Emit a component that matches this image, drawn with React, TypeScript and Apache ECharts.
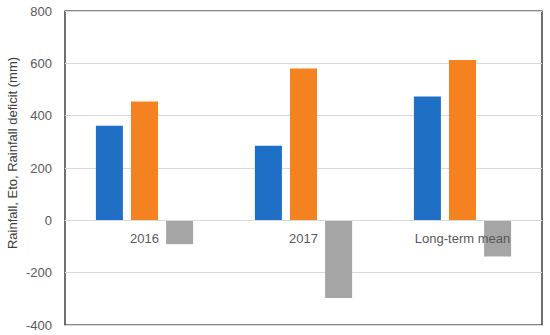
import React, { useEffect, useRef } from "react";
import * as echarts from "echarts";

const categories = ["2016", "2017", "Long-term mean"];
const rainfall = [361, 285, 473];
const eto = [454, 580, 613];
const deficit = [-91, -297, -138];
const yTicks = { min: -400, max: 800, interval: 200 };
const yName = "Rainfall, Eto, Rainfall deficit (mm)";

export default function App() {
  const ref = useRef<HTMLDivElement>(null);
  useEffect(() => {
    if (!ref.current) return;
    const chart = echarts.init(ref.current, undefined, { renderer: "svg" });
    const font = "'Liberation Sans', Arial, sans-serif";
    const gridTop = 11;
    const gridBottom = 10;
    const plotH = 335 - gridTop - gridBottom;
    const zeroOffset = (plotH * (0 - yTicks.min)) / (yTicks.max - yTicks.min);
    chart.setOption({
      animation: false,
      backgroundColor: "#ffffff",
      grid: {
        left: 65,
        top: gridTop,
        right: 8,
        bottom: gridBottom,
        show: true,
        borderColor: "#111111",
        borderWidth: 1.2,
        containLabel: false,
      },
      xAxis: {
        type: "category",
        data: categories,
        offset: -zeroOffset,
        z: 5,
        axisLine: { onZero: false, lineStyle: { color: "#d9d9d9", width: 1 } },
        axisTick: { show: false },
        axisLabel: {
          color: "#595959",
          fontSize: 13,
          fontFamily: font,
          margin: 12,
        },
        splitLine: { show: false },
      },
      yAxis: {
        type: "value",
        min: yTicks.min,
        max: yTicks.max,
        interval: yTicks.interval,
        axisLine: { show: false },
        axisTick: { show: false },
        axisLabel: {
          color: "#595959",
          fontSize: 13,
          fontFamily: font,
          margin: 13,
        },
        splitLine: { lineStyle: { color: "#d9d9d9", width: 1 } },
      },
      graphic: [
        {
          type: "text",
          x: 12,
          y: 153,
          rotation: Math.PI / 2,
          style: {
            text: yName,
            fill: "#404040",
            fontSize: 13,
            fontFamily: font,
            align: "center",
            verticalAlign: "middle",
          },
        },
      ],
      series: [
        {
          type: "bar",
          data: rainfall,
          barWidth: 27,
          barGap: "30%",
          itemStyle: { color: "#1f6fc6" },
        },
        {
          type: "bar",
          data: eto,
          barWidth: 27,
          barGap: "30%",
          itemStyle: { color: "#f58220" },
        },
        {
          type: "bar",
          data: deficit,
          barWidth: 27,
          barGap: "30%",
          itemStyle: { color: "#a5a5a5" },
        },
      ],
    });
    return () => chart.dispose();
  }, []);
  return (
    <div
      ref={ref}
      style={{ position: "fixed", left: 0, top: 0, width: 550, height: 335 }}
    />
  );
}
